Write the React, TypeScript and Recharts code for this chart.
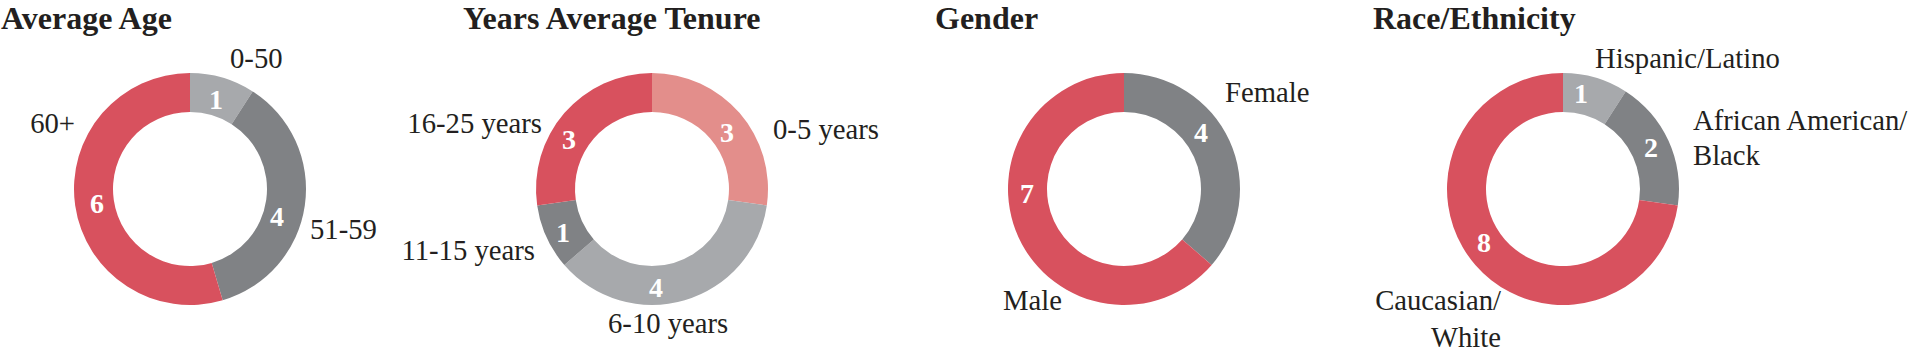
import { Cell, Pie, PieChart } from "recharts";

const ageGroups = ["0-50", "51-59", "60+"];
const ageCounts = [1, 4, 6];

const tenureGroups = ["0-5 years", "6-10 years", "11-15 years", "16-25 years"];
const tenureCounts = [3, 4, 1, 3];

const genderGroups = ["Female", "Male"];
const genderCounts = [4, 7];

const raceGroups = ["Hispanic/Latino", "African American/\nBlack", "Caucasian/\nWhite"];
const raceCounts = [1, 2, 8];

const red = "#d8515e";
const salmon = "#e38e8b";
const darkGray = "#808285";
const lightGray = "#a7a9ac";
const ink = "#231f20";
const serif = "Liberation Serif";

// label spots are offsets from the pie centre (Excel had them hand-placed)
type Spot = { dx: number; dy: number; anchor?: "start" | "end" | "middle"; lh?: number };

const panels = [
  {
    title: "Average Age",
    titleX: 1,
    cx: 190,
    names: ageGroups,
    values: ageCounts,
    colors: [lightGray, darkGray, red],
    valueSpots: [
      { dx: 26, dy: -90 },
      { dx: 87, dy: 27 },
      { dx: -93, dy: 14 },
    ],
    nameSpots: [
      { dx: 40, dy: -121, anchor: "start" },
      { dx: 120, dy: 50, anchor: "start" },
      { dx: -115, dy: -56, anchor: "end" },
    ] as Spot[],
  },
  {
    title: "Years Average Tenure",
    titleX: 463,
    cx: 652,
    names: tenureGroups,
    values: tenureCounts,
    colors: [salmon, lightGray, darkGray, red],
    valueSpots: [
      { dx: 75, dy: -57 },
      { dx: 4, dy: 98 },
      { dx: -89, dy: 43 },
      { dx: -83, dy: -50 },
    ],
    nameSpots: [
      { dx: 121, dy: -50, anchor: "start" },
      { dx: -44, dy: 144, anchor: "start" },
      { dx: -117, dy: 71, anchor: "end" },
      { dx: -110, dy: -56, anchor: "end" },
    ] as Spot[],
  },
  {
    title: "Gender",
    titleX: 935,
    cx: 1124,
    names: genderGroups,
    values: genderCounts,
    colors: [darkGray, red],
    valueSpots: [
      { dx: 77, dy: -57 },
      { dx: -97, dy: 4 },
    ],
    nameSpots: [
      { dx: 101, dy: -87, anchor: "start" },
      { dx: -121, dy: 121, anchor: "start" },
    ] as Spot[],
  },
  {
    title: "Race/Ethnicity",
    titleX: 1373,
    cx: 1563,
    names: raceGroups,
    values: raceCounts,
    colors: [lightGray, darkGray, red],
    valueSpots: [
      { dx: 18, dy: -96 },
      { dx: 88, dy: -42 },
      { dx: -79, dy: 53 },
    ],
    nameSpots: [
      { dx: 32, dy: -121, anchor: "start" },
      { dx: 130, dy: -59, anchor: "start", lh: 35 },
      { dx: -62, dy: 121, anchor: "end", lh: 37 },
    ] as Spot[],
  },
];

const CY = 189;

function makeLabel(p: (typeof panels)[number]) {
  return (props: any) => {
    const { cx, cy, index, value } = props;
    const v = p.valueSpots[index];
    const n = p.nameSpots[index];
    const lines = p.names[index].split("\n");
    return (
      <g key={`lbl-${p.title}-${index}`}>
        <text
          x={cx + v.dx}
          y={cy + v.dy + 10}
          textAnchor="middle"
          style={{ fontFamily: serif, fontWeight: "bold", fontSize: 28, fill: "#ffffff" }}
        >
          {value}
        </text>
        <text
          x={cx + n.dx}
          y={cy + n.dy}
          textAnchor={n.anchor ?? "start"}
          style={{ fontFamily: serif, fontSize: 28.7, fill: ink }}
        >
          {lines.map((line, i) => (
            <tspan key={i} x={cx + n.dx} dy={i === 0 ? 0 : n.lh ?? 35}>
              {line}
            </tspan>
          ))}
        </text>
      </g>
    );
  };
}

export default function App() {
  return (
    <div style={{ position: "absolute", left: 0, top: 0, width: 1909, height: 353, background: "#fff" }}>
      {panels.map((p) => (
        <div
          key={p.title}
          style={{
            position: "absolute",
            left: p.titleX,
            top: 0,
            fontFamily: serif,
            fontWeight: "bold",
            fontSize: 32,
            lineHeight: "normal",
            color: ink,
            whiteSpace: "nowrap",
          }}
        >
          {p.title}
        </div>
      ))}
      <PieChart width={1909} height={353} margin={{ top: 0, right: 0, bottom: 0, left: 0 }}>
        {panels.map((p) => (
          <Pie
            key={p.title}
            data={p.names.map((name, i) => ({ name, value: p.values[i] }))}
            dataKey="value"
            nameKey="name"
            cx={p.cx}
            cy={CY}
            innerRadius={77}
            outerRadius={116}
            startAngle={90}
            endAngle={-270}
            stroke="none"
            labelLine={false}
            label={makeLabel(p)}
            isAnimationActive={false}
          >
            {p.values.map((_, i) => (
              <Cell key={i} fill={p.colors[i]} />
            ))}
          </Pie>
        ))}
      </PieChart>
    </div>
  );
}
